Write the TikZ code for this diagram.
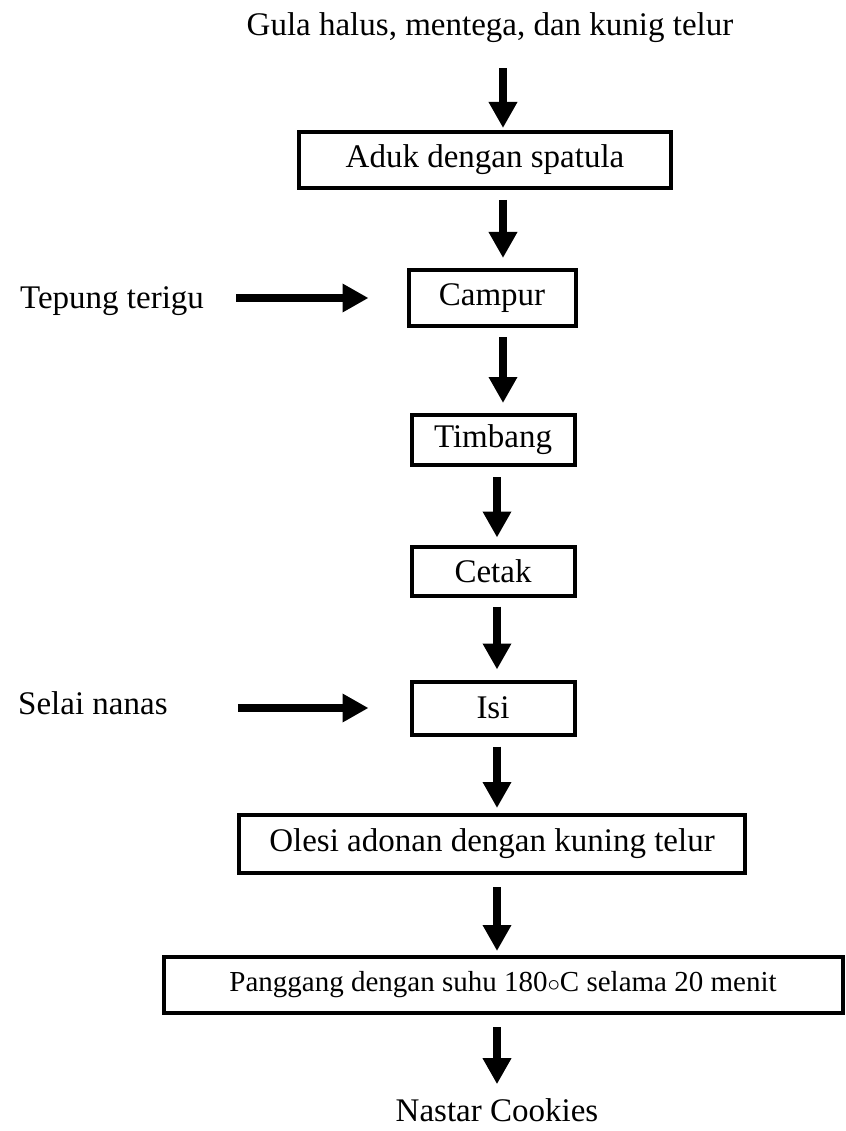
\documentclass[tikz,border=0pt]{standalone}
\usepackage{fontspec}
\setmainfont{Liberation Serif}
\usetikzlibrary{ arrows.meta, % For the thick triangle tips
               }

\begin{document}
\begin{tikzpicture}[x=1pt, y=-1pt,
    every node/.style={font=\fontsize{33}{40}\selectfont, inner sep=0pt},
    stepbox/.style={draw, line width=4pt},
    flow/.style={line width=8pt, -{Triangle[length=26pt, width=27pt]}}]
    \useasboundingbox (0,0) rectangle (845,1131);
    \coordinate (colA) at (503,0);
    \coordinate (colB) at (497,0);
    \node (gula) at (490,28) {Gula halus, mentega, dan kunig telur};
    \node[stepbox, minimum width=372pt, minimum height=56pt] (aduk) at (485,160) {Aduk dengan spatula};
    \node[stepbox, minimum width=167pt, minimum height=56pt] (campur) at (492,298) {Campur};
    \node[stepbox, minimum width=163pt, minimum height=50pt] (timbang) at (493,440) {Timbang};
    \node[stepbox, minimum width=163pt, minimum height=49pt] (cetak) at (493,571) {Cetak};
    \node[stepbox, minimum width=163pt, minimum height=53pt] (isi) at (493,708) {Isi};
    \node[stepbox, minimum width=506pt, minimum height=58pt] (olesi) at (492,844) {Olesi adonan dengan kuning telur};
    \node[stepbox, minimum width=679pt, minimum height=56pt, font=\fontsize{29}{35}\selectfont] (panggang) at (503,985) {Panggang dengan suhu 180$\circ$C selama 20 menit};
    \node (nastar) at (497,1110) {Nastar Cookies};
    \node[anchor=west] (tepung) at (20,301) {Tepung terigu};
    \node[anchor=west] (selai) at (18,703) {Selai nanas};
    \draw[flow, shorten <=25pt, shorten >=2pt] (gula.south -| colA) -- (aduk.north -| colA);
    \draw[flow, shorten <=10pt, shorten >=10pt] (aduk.south -| colA) -- (campur.north -| colA);
    \draw[flow, shorten <=9pt, shorten >=10pt] (campur.south -| colA) -- (timbang.north -| colA);
    \draw[flow, shorten <=10pt, shorten >=7pt] (timbang.south -| colB) -- (cetak.north -| colB);
    \draw[flow, shorten <=9pt, shorten >=10pt] (cetak.south -| colB) -- (isi.north -| colB);
    \draw[flow, shorten <=10pt, shorten >=5pt] (isi.south -| colB) -- (olesi.north -| colB);
    \draw[flow, shorten <=12pt, shorten >=4pt] (olesi.south -| colB) -- (panggang.north -| colB);
    \draw[flow, shorten <=12pt, shorten >=14pt] (panggang.south -| colB) -- (nastar.north -| colB);
    \draw[flow, shorten <=32pt, shorten >=38pt] (campur.west -| tepung.east) -- (campur.west);
    \draw[flow, shorten <=70pt, shorten >=41pt] (isi.west -| selai.east) -- (isi.west);
\end{tikzpicture}
\end{document}
